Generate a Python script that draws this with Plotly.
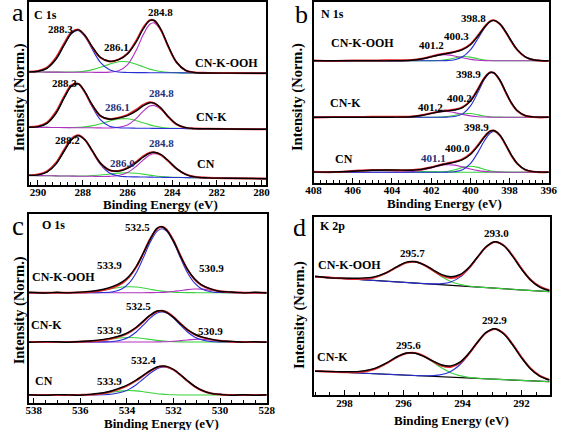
import numpy as np
import plotly.graph_objects as go

FONT = "Liberation Serif"
W, H = 567, 430
RED, BLACK, BLUE, PURPLE, GREEN = "#e3262c", "#000000", "#2a2fd4", "#b032c4", "#39d23c"
NAVY = "#24307a"

# ---------------- Panel a : C 1s ----------------
E_C = [290.4, 290.0, 289.6, 289.2, 288.8, 288.5, 288.2, 287.9, 287.6, 287.2, 286.8, 286.4, 286.0,
       285.6, 285.3, 285.0, 284.8, 284.5, 284.2, 283.8, 283.4, 283.0, 282.4, 281.5, 279.8]
C_OOH_BG = [112.5, 112.5, 112.4, 112.4, 112.3, 112.3, 112.2, 112.2, 112.2, 112.1, 112.1, 112.0, 112.0,
            111.9, 111.9, 111.8, 111.8, 111.8, 111.7, 111.7, 111.6, 111.6, 111.5, 111.4, 111.2]
C_OOH_2883 = [0.1, 0.74, 3.8, 12.8, 28.2, 38.7, 41.9, 35.7, 24.1, 9.8, 2.6, 0.46, 0.05, 0, 0, 0, 0, 0, 0, 0, 0, 0, 0, 0, 0]
C_OOH_2861 = [0, 0, 0, 0.01, 0.06, 0.19, 0.51, 1.2, 2.44, 5.1, 8.3, 10.7, 10.7, 8.3, 5.9, 3.6, 2.44, 1.2, 0.51, 0.13, 0, 0, 0, 0, 0]
C_OOH_2848 = [0, 0, 0, 0, 0, 0, 0, 0, 0, 0.02, 0.23, 1.67, 7.7, 22.6, 37.5, 48.4, 49.8, 42.0, 27.5, 10.5, 2.6, 0.4, 0, 0, 0]
C_OOH_FIT = [0.1, 0.7, 3.8, 12.8, 28.3, 38.9, 42.4, 36.9, 26.5, 14.9, 11.1, 12.8, 18.5, 30.9, 43.4, 52.0, 52.2, 43.2, 28.0, 10.6, 2.6, 0.4, 0, 0, 0]
C_OOH_RAW = [0.3, 1.0, 4.6, 14.3, 30.0, 40.0, 42.6, 36.6, 26.0, 14.6, 11.0, 12.9, 19.0, 32.2, 44.6, 52.6, 52.0, 42.8, 27.6, 10.4, 2.5, 0.5, 0.1, 0, 0.1]

C_K_BG = [57.2, 57.1, 57.1, 57.0, 56.9, 56.8, 56.8, 56.7, 56.7, 56.6, 56.5, 56.5, 56.4,
          56.3, 56.2, 56.2, 56.1, 56.1, 56.0, 56.0, 55.9, 55.8, 55.7, 55.5, 55.2]
C_K_2883 = [0.1, 0.74, 4.0, 14.0, 30.9, 41.6, 43.4, 35.1, 22.0, 7.95, 1.83, 0.27, 0.03, 0, 0, 0, 0, 0, 0, 0, 0, 0, 0, 0, 0]
C_K_2861 = [0, 0, 0, 0, 0.04, 0.14, 0.38, 0.9, 1.9, 4.07, 6.87, 9.05, 9.34, 7.53, 5.45, 3.44, 2.34, 1.17, 0.51, 0.14, 0.03, 0, 0, 0, 0]
C_K_2848 = [0, 0, 0, 0, 0, 0, 0, 0, 0, 0, 0.07, 0.6, 3.07, 9.8, 16.9, 22.2, 22.9, 19.1, 12.1, 4.3, 0.94, 0.13, 0, 0, 0]
C_K_FIT = [0.1, 0.74, 4.0, 14.0, 30.9, 41.7, 43.8, 36.0, 23.9, 12.0, 8.8, 9.9, 12.4, 17.3, 22.4, 25.6, 25.2, 20.3, 12.6, 4.4, 1.0, 0.1, 0, 0, 0]
C_K_RAW = [0.3, 1.1, 4.8, 15.6, 32.4, 42.6, 43.9, 35.6, 23.4, 11.8, 8.9, 10.2, 13.2, 18.6, 23.5, 26.0, 25.0, 19.9, 12.3, 4.2, 1.0, 0.2, 0.1, 0, 0]

C_CN_BG = [9.0, 8.9, 8.8, 8.6, 8.5, 8.4, 8.3, 8.2, 8.2, 8.0, 7.9, 7.8, 7.7,
           7.6, 7.5, 7.4, 7.3, 7.2, 7.1, 7.0, 6.9, 6.8, 6.6, 6.3, 5.8]
C_CN_2882 = [0.1, 0.75, 3.6, 11.8, 26.0, 36.2, 40.5, 36.2, 26.0, 11.8, 3.6, 0.75, 0.1, 0, 0, 0, 0, 0, 0, 0, 0, 0, 0, 0, 0]
C_CN_2860 = [0, 0, 0, 0, 0.02, 0.05, 0.14, 0.33, 0.68, 1.47, 2.57, 3.58, 4.0, 3.58, 2.85, 2.0, 1.47, 0.84, 0.42, 0.14, 0.04, 0, 0, 0, 0]
C_CN_2848 = [0, 0, 0, 0, 0, 0, 0, 0, 0, 0.04, 0.25, 1.23, 4.3, 10.7, 16.9, 22.0, 23.4, 22.0, 16.9, 8.8, 3.3, 0.85, 0.06, 0, 0]
C_CN_FIT = [0.1, 0.75, 3.6, 11.8, 26.0, 36.3, 40.6, 36.5, 26.7, 13.3, 6.4, 5.6, 8.4, 14.3, 19.8, 24.0, 24.9, 22.8, 17.3, 8.9, 3.3, 0.85, 0.06, 0, 0]
C_CN_RAW = [0.2, 1.0, 4.3, 13.0, 27.5, 37.4, 40.9, 36.4, 26.3, 13.0, 6.4, 5.8, 8.9, 15.2, 20.6, 24.4, 24.8, 22.5, 17.0, 8.8, 3.4, 0.9, 0.2, 0, 0.1]

# ---------------- Panel b : N 1s ----------------
E_N = [408, 407, 406, 405, 404, 403, 402.5, 402.0, 401.6, 401.2, 400.8, 400.4, 400.0,
       399.6, 399.3, 399.0, 398.8, 398.5, 398.2, 397.9, 397.6, 397.2, 396.8, 396.4, 396.0]
N_OOH_BG = 121.7
N_OOH_3988 = [0, 0, 0, 0, 0, 0, 0, 0, 0.03, 0.22, 1.08, 3.97, 10.9, 22.6, 32.1, 38.9, 40.3, 37.1, 29.1, 19.4, 10.9, 3.97, 1.08, 0.22, 0.03]
N_OOH_4003 = [0, 0, 0, 0, 0, 0, 0, 0.04, 0.27, 1.14, 2.85, 4.23, 3.71, 1.92, 0.83, 0.27, 0.11, 0.02, 0, 0, 0, 0, 0, 0, 0]
N_OOH_4012 = [0, 0, 0, 0, 0.01, 0.5, 1.75, 3.95, 5.56, 5.95, 4.84, 3.0, 1.41, 0.5, 0.2, 0.05, 0, 0, 0, 0, 0, 0, 0, 0, 0]
N_OOH_FIT = [0, 0, 0, 0, 0.01, 0.5, 1.75, 3.99, 5.86, 7.31, 8.77, 11.2, 16.0, 25.0, 33.1, 39.2, 40.4, 37.1, 29.1, 19.4, 10.9, 3.97, 1.08, 0.22, 0.03]
N_OOH_RAW = [0.3, -0.2, 0.4, 0.2, 0.6, 0.9, 2.0, 4.3, 6.2, 7.5, 9.0, 11.6, 16.6, 25.6, 33.5, 39.5, 40.5, 36.9, 28.7, 19.0, 10.6, 3.8, 1.0, 0.1, -0.3]

N_K_BG = 65.3
N_K_3989 = [0, 0, 0, 0, 0, 0, 0, 0, 0.01, 0.1, 0.69, 3.33, 11.1, 25.4, 37.2, 44.2, 44.2, 37.2, 25.4, 14.1, 6.4, 1.6, 0.28, 0.03, 0]
N_K_4002 = [0, 0, 0, 0, 0, 0, 0, 0.01, 0.12, 0.62, 1.9, 3.43, 3.66, 2.31, 1.16, 0.43, 0.19, 0.04, 0, 0, 0, 0, 0, 0, 0]
N_K_4012 = [0, 0, 0, 0, 0.01, 0.48, 1.66, 3.75, 5.28, 5.65, 4.6, 2.85, 1.34, 0.48, 0.19, 0.05, 0, 0, 0, 0, 0, 0, 0, 0, 0]
N_K_FIT = [0, 0, 0, 0, 0.01, 0.48, 1.66, 3.76, 5.41, 6.37, 7.19, 9.61, 16.1, 28.2, 38.6, 44.7, 44.4, 37.2, 25.4, 14.1, 6.4, 1.6, 0.28, 0.03, 0]
N_K_RAW = [-0.2, 0.3, 0.1, 0.5, 0.4, 0.8, 1.9, 4.0, 5.8, 6.8, 7.6, 10.0, 16.6, 28.8, 38.9, 44.8, 44.3, 37.0, 25.0, 13.8, 6.1, 1.4, 0.2, -0.2, 0.1]

N_CN_BG = 10.3
N_CN_3989 = [0, 0, 0, 0, 0, 0, 0, 0, 0, 0.08, 0.53, 2.54, 8.55, 20.35, 31.0, 39.0, 40.7, 36.9, 27.6, 16.9, 8.55, 2.54, 0.53, 0.08, 0]
N_CN_4000 = [0, 0, 0, 0, 0, 0, 0, 0.02, 0.16, 0.78, 2.43, 4.79, 6.0, 4.79, 3.0, 1.46, 0.78, 0.25, 0.06, 0, 0, 0, 0, 0, 0]
N_CN_4011 = [0, 0, 0, 0, 0.02, 0.61, 1.93, 4.28, 6.31, 7.45, 7.05, 5.34, 3.24, 1.58, 0.79, 0.35, 0.19, 0.07, 0.02, 0, 0, 0, 0, 0, 0]
N_CN_SAT = [0.03, 0.24, 0.94, 1.98, 2.24, 1.37, 0.85, 0.45, 0.24, 0.12, 0.05, 0.02, 0, 0, 0, 0, 0, 0, 0, 0, 0, 0, 0, 0, 0]
N_CN_FIT = [0.03, 0.24, 0.94, 1.98, 2.26, 1.98, 2.78, 4.75, 6.71, 8.43, 10.06, 12.69, 17.79, 26.72, 34.79, 40.81, 41.67, 37.22, 27.68, 16.9, 8.55, 2.54, 0.53, 0.08, 0]
N_CN_RAW = [0.4, 0.1, 1.2, 2.3, 2.0, 2.2, 2.9, 5.0, 7.1, 8.8, 10.4, 13.1, 18.4, 27.3, 35.2, 41.0, 41.5, 36.9, 27.2, 16.5, 8.3, 2.4, 0.4, 0.0, 0.2]

# ---------------- Panel c : O 1s ----------------
E_O = [538.2, 537.5, 537.0, 536.5, 536.0, 535.5, 535.0, 534.6, 534.2, 533.9, 533.6, 533.3, 533.0, 532.7,
       532.5, 532.3, 532.0, 531.7, 531.4, 531.1, 530.8, 530.4, 530.0, 529.5, 529.0, 528.5, 528.0]
O_OOH_BG = 110.0
O_OOH_5325 = [0, 0, 0, 0, 0, 0.01, 0.16, 0.93, 4.0, 9.77, 20.0, 34.6, 50.4, 61.6, 64.0, 61.6, 50.4, 34.6, 20.0, 9.77, 4.0, 0.93, 0.16, 0.01, 0, 0, 0]
O_OOH_5339 = [0, 0, 0.01, 0.06, 0.28, 1.02, 2.59, 4.27, 5.64, 6.0, 5.64, 4.68, 3.42, 2.21, 1.54, 1.02, 0.49, 0.21, 0.08, 0.03, 0.01, 0, 0, 0, 0, 0, 0]
O_OOH_5309 = [0, 0, 0, 0, 0, 0, 0, 0, 0, 0, 0, 0.01, 0.05, 0.16, 0.32, 0.59, 1.25, 2.18, 3.11, 3.66, 3.54, 2.5, 1.25, 0.32, 0.05, 0, 0]
O_OOH_FIT = [0, 0, 0.01, 0.06, 0.28, 1.03, 2.75, 5.2, 9.64, 15.77, 25.64, 39.29, 53.87, 63.97, 65.86, 63.21, 52.14, 36.99, 23.19, 13.46, 7.55, 3.43, 1.41, 0.33, 0.05, 0, 0]
O_OOH_RAW = [0.5, -0.3, 0.4, -0.2, 0.6, 1.5, 3.4, 6.3, 10.9, 16.8, 26.2, 39.4, 53.4, 64.6, 66.0, 62.8, 51.6, 36.6, 23.4, 13.9, 7.9, 3.9, 1.2, 0.7, -0.2, 0.4, -0.3]

O_K_BG = 60.7
O_K_5325 = [0, 0, 0, 0, 0, 0.01, 0.1, 0.55, 2.19, 5.09, 10.0, 16.8, 23.9, 28.9, 30.0, 28.9, 23.9, 16.8, 10.0, 5.09, 2.19, 0.55, 0.1, 0.01, 0, 0, 0]
O_K_5339 = [0, 0, 0.01, 0.05, 0.21, 0.77, 1.94, 3.2, 4.23, 4.5, 4.23, 3.51, 2.57, 1.66, 1.16, 0.77, 0.37, 0.16, 0.06, 0.02, 0, 0, 0, 0, 0, 0, 0]
O_K_5309 = [0, 0, 0, 0, 0, 0, 0, 0, 0, 0, 0, 0, 0.02, 0.08, 0.17, 0.32, 0.73, 1.35, 2.06, 2.59, 2.67, 2.06, 1.12, 0.32, 0.05, 0, 0]
O_K_FIT = [0, 0, 0.01, 0.05, 0.21, 0.78, 2.04, 3.75, 6.42, 9.59, 14.23, 20.31, 26.49, 30.64, 31.33, 29.99, 25.0, 18.31, 12.12, 7.7, 4.86, 2.61, 1.22, 0.33, 0.05, 0, 0]
O_K_RAW = [-0.3, 0.4, 0.2, -0.2, 0.5, 1.2, 2.6, 4.4, 7.0, 10.2, 14.8, 20.9, 26.9, 31.0, 31.2, 29.6, 24.6, 18.0, 12.2, 8.0, 5.1, 2.9, 1.0, 0.6, -0.1, 0.3, -0.2]

O_CN_BG = 7.7
O_CN_5324 = [0, 0, 0, 0, 0, 0.04, 0.26, 0.98, 2.96, 5.88, 10.3, 15.97, 21.8, 26.3, 27.8, 27.8, 25.06, 19.9, 14.0, 8.68, 4.75, 1.75, 0.52, 0.08, 0.01, 0, 0]
O_CN_5339 = [0, 0, 0, 0.01, 0.1, 0.5, 1.6, 2.96, 4.17, 4.5, 4.17, 3.31, 2.25, 1.31, 0.84, 0.5, 0.21, 0.07, 0.02, 0, 0, 0, 0, 0, 0, 0, 0]
O_CN_FIT = [0, 0, 0, 0.01, 0.1, 0.54, 1.86, 3.94, 7.13, 10.38, 14.47, 19.28, 24.05, 27.61, 28.64, 28.3, 25.27, 19.97, 14.02, 8.68, 4.75, 1.75, 0.52, 0.08, 0.01, 0, 0]
O_CN_RAW = [0.3, -0.3, 0.4, 0.1, -0.2, 0.9, 2.3, 4.5, 7.8, 11.0, 15.0, 19.6, 24.4, 28.0, 28.9, 28.6, 25.5, 20.2, 14.3, 8.9, 4.9, 1.6, 0.7, -0.2, 0.3, -0.3, 0.2]

# ---------------- Panel d : K 2p ----------------
E_K = [299.0, 298.5, 298.0, 297.5, 297.0, 296.6, 296.2, 295.9, 295.6, 295.3, 295.0, 294.7,
       294.4, 294.1, 293.8, 293.5, 293.2, 292.9, 292.6, 292.3, 292.0, 291.7, 291.4, 291.05]
K_OOH_BG = [118.3, 117.4, 116.4, 115.5, 114.5, 113.8, 113.0, 112.5, 111.9, 111.3, 110.8, 110.2,
            109.6, 109.1, 108.5, 107.9, 107.4, 106.8, 106.2, 105.7, 105.1, 104.5, 104.0, 103.3]
K_OOH_2957 = [0, 0, 0.05, 0.52, 2.96, 8.02, 15.35, 19.9, 21.24, 18.65, 13.48, 8.02, 3.92, 1.58, 0.52, 0.14, 0.03, 0, 0, 0, 0, 0, 0, 0]
K_OOH_2930 = [0, 0, 0, 0, 0, 0, 0, 0, 0.01, 0.07, 0.31, 1.14, 3.44, 8.54, 17.46, 29.36, 40.63, 46.26, 43.36, 33.44, 21.22, 11.08, 4.76, 1.39]
K_OOH_FIT = [0, 0, 0.05, 0.52, 2.96, 8.02, 15.35, 19.9, 21.25, 18.72, 13.79, 9.16, 7.36, 10.12, 17.98, 29.5, 40.66, 46.26, 43.36, 33.44, 21.22, 11.08, 4.76, 1.39]
K_OOH_RAW = [0.4, -0.3, 0.5, 1.3, 3.6, 8.3, 15.6, 20.4, 21.3, 18.9, 14.4, 10.2, 8.6, 11.2, 18.6, 29.8, 40.9, 46.5, 43.0, 32.9, 20.7, 10.6, 4.2, 1.0]

K_K_BG = [24.0, 23.3, 22.7, 22.0, 21.3, 20.8, 20.2, 19.8, 19.4, 19.0, 18.6, 18.2,
          17.8, 17.4, 17.0, 16.6, 16.2, 15.8, 15.4, 15.0, 14.6, 14.2, 13.8, 13.3]
K_K_2956 = [0, 0.01, 0.14, 1.02, 4.5, 10.48, 17.94, 21.94, 22.58, 19.56, 14.25, 8.73, 4.5, 1.96, 0.71, 0.22, 0.05, 0.01, 0, 0, 0, 0, 0, 0]
K_K_2929 = [0, 0, 0, 0, 0, 0, 0, 0.01, 0.05, 0.2, 0.73, 2.24, 5.8, 12.61, 23.08, 35.54, 46.05, 50.2, 46.05, 35.54, 23.08, 12.61, 5.8, 1.88]
K_K_FIT = [0, 0.01, 0.14, 1.02, 4.5, 10.48, 17.94, 21.95, 22.63, 19.76, 14.98, 10.97, 10.3, 14.57, 23.79, 35.76, 46.1, 50.21, 46.05, 35.54, 23.08, 12.61, 5.8, 1.88]
K_K_RAW = [-0.3, 0.3, 0.5, 1.6, 5.0, 10.9, 18.3, 22.2, 22.4, 19.4, 15.3, 11.8, 11.3, 15.2, 24.2, 35.9, 46.4, 50.5, 45.6, 35.0, 22.6, 12.1, 5.3, 1.5]

fig = go.Figure()


def line(x, y, color, width, ax):
    fig.add_trace(go.Scatter(x=x, y=y, mode="lines", line=dict(color=color, width=width, shape="spline"),
                             xaxis="x" + ax, yaxis="y" + ax, showlegend=False, hoverinfo="skip"))


def spectrum(E, bg, comps, red, black, ax, draw_bg=False):
    b = np.asarray(bg, dtype=float)
    if draw_bg:
        fig.add_trace(go.Scatter(x=E, y=b + np.zeros(len(E)), mode="lines", line=dict(color=BLACK, width=1.2),
                                 xaxis="x" + ax, yaxis="y" + ax, showlegend=False, hoverinfo="skip"))
    for vals, col in comps:
        line(E, b + np.asarray(vals), col, 1.1, ax)
    line(E, b + np.asarray(red), RED, 2.0, ax)
    line(E, b + np.asarray(black), BLACK, 1.4, ax)


# panel a (red = raw, black = fit)
spectrum(E_C, C_OOH_BG, [(C_OOH_2861, GREEN), (C_OOH_2848, PURPLE), (C_OOH_2883, BLUE)], C_OOH_RAW, C_OOH_FIT, "")
spectrum(E_C, C_K_BG, [(C_K_2861, GREEN), (C_K_2848, PURPLE), (C_K_2883, BLUE)], C_K_RAW, C_K_FIT, "")
spectrum(E_C, C_CN_BG, [(C_CN_2860, GREEN), (C_CN_2848, PURPLE), (C_CN_2882, BLUE)], C_CN_RAW, C_CN_FIT, "")
# panel b
spectrum(E_N, N_OOH_BG, [(N_OOH_4003, GREEN), (N_OOH_4012, PURPLE), (N_OOH_3988, BLUE)], N_OOH_RAW, N_OOH_FIT, "2")
spectrum(E_N, N_K_BG, [(N_K_4002, GREEN), (N_K_4012, PURPLE), (N_K_3989, BLUE)], N_K_RAW, N_K_FIT, "2")
spectrum(E_N, N_CN_BG, [(N_CN_SAT, GREEN), (N_CN_4000, GREEN), (N_CN_4011, PURPLE), (N_CN_3989, BLUE)], N_CN_RAW, N_CN_FIT, "2")
# panel c (red = fit, black = raw)
spectrum(E_O, O_OOH_BG, [(O_OOH_5339, GREEN), (O_OOH_5309, PURPLE), (O_OOH_5325, BLUE)], O_OOH_FIT, O_OOH_RAW, "3")
spectrum(E_O, O_K_BG, [(O_K_5339, GREEN), (O_K_5309, PURPLE), (O_K_5325, BLUE)], O_K_FIT, O_K_RAW, "3")
spectrum(E_O, O_CN_BG, [(O_CN_5339, GREEN), (O_CN_5324, BLUE)], O_CN_FIT, O_CN_RAW, "3")
# panel d
spectrum(E_K, K_OOH_BG, [(K_OOH_2957, GREEN), (K_OOH_2930, BLUE)], K_OOH_FIT, K_OOH_RAW, "4", draw_bg=True)
spectrum(E_K, K_K_BG, [(K_K_2956, GREEN), (K_K_2929, BLUE)], K_K_FIT, K_K_RAW, "4", draw_bg=True)


def px_x(x):
    return x / W


def px_y(y):
    return 1 - y / H


def xax(x0, x1, rng, dtick, mdt, anchor, standoff=-3):
    return dict(domain=[px_x(x0), px_x(x1)], range=rng, anchor=anchor, showline=True, mirror=True,
                linecolor="black", linewidth=1.5, ticks="inside", ticklen=5, tickwidth=1.2, tickcolor="black",
                dtick=dtick, tick0=0, showgrid=False, zeroline=False, ticklabelstandoff=standoff,
                minor=dict(ticks="inside", ticklen=3, tickwidth=1, tickcolor="black", dtick=mdt, tick0=0,
                           showgrid=False),
                tickfont=dict(family=FONT, size=11, color="black", weight="bold"))


def yax(y0, y1, hgt, anchor):
    return dict(domain=[px_y(y1), px_y(y0)], range=[0, hgt], anchor=anchor, showline=True, mirror=True,
                linecolor="black", linewidth=1.5, ticks="", showticklabels=False, showgrid=False,
                zeroline=False)


fig.update_layout(
    width=W, height=H, margin=dict(l=0, r=0, t=0, b=0),
    paper_bgcolor="white", plot_bgcolor="white",
    xaxis=xax(21.7, 266, [290.4, 279.8], 2, 2 / 6, "y"),
    yaxis=yax(1.7, 184.5, 182.8, "x"),
    xaxis2=xax(315, 557.5, [408, 396], 2, 2 / 6, "y2"),
    yaxis2=yax(1.7, 182.5, 180.8, "x2"),
    xaxis3=xax(21.7, 266.7, [538.2, 528], 2, 0.5, "y3", standoff=-4),
    yaxis3=yax(214, 402.7, 188.7, "x3"),
    xaxis4=xax(315, 558.3, [299.05, 291.05], 2, 0.5, "y4"),
    yaxis4=yax(216.7, 395, 178.3, "x4"),
)

ann = []


def txt(s, x, y, size=11, color="black", bold=True, angle=0):
    ann.append(dict(text=s, x=px_x(x), y=px_y(y), xref="paper", yref="paper", showarrow=False,
                    xanchor="center", yanchor="middle", textangle=angle,
                    font=dict(family=FONT, size=size, color=color, weight="bold" if bold else "normal")))


# panel letters
txt("a", 10.3, 12.5, 26, bold=False)
txt("b", 302.5, 14.5, 26, bold=False)
txt("c", 10, 226.0, 27, bold=False)
txt("d", 300.8, 227.8, 26, bold=False)
# element titles
txt("C 1s", 38.3, 15, 12)
txt("N 1s", 335, 14, 12)
txt("O 1s", 46.7, 225, 12)
txt("K 2p", 335, 226, 12)
# axis titles
for x, y in [(11.7, 97), (298.3, 96.7), (11.7, 310), (300, 315)]:
    txt("Intensity (Norm.)", x, y, 14.5, angle=-90)
for x, y in [(156.7, 204.5), (450, 203.5), (158.3, 423), (456.7, 420)]:
    txt("Binding Energy (eV)", x, y, 13)

# panel a labels
txt("288.3", 54.3, 29); txt("286.1", 111.7, 47.3); txt("284.8", 156.7, 12.3); txt("CN-K-OOH", 225, 63.3, 12)
txt("288.3", 58.3, 83.3); txt("286.1", 112.7, 107.3, color=NAVY); txt("284.8", 158.3, 93.3, color=NAVY)
txt("CN-K", 210, 117.3, 12)
txt("288.2", 61.7, 140); txt("286.0", 118.3, 163.3, color=NAVY); txt("284.8", 158.3, 143.3, color=NAVY)
txt("CN", 204, 164.3, 12)
# panel b labels
txt("398.8", 480, 18.3); txt("400.3", 462.7, 36); txt("401.2", 436.7, 45); txt("CN-K-OOH", 365, 43.3, 12)
txt("398.9", 475, 74); txt("400.2", 465, 98.3); txt("401.2", 436, 106.7); txt("CN-K", 348.3, 103.3, 12)
txt("398.9", 483.3, 126.7); txt("400.0", 463.3, 148.3); txt("401.1", 438.3, 158.3, color=NAVY)
txt("CN", 346.7, 159.3, 12)
# panel c labels
txt("532.5", 133.3, 226.7); txt("533.9", 105, 265); txt("530.9", 210, 268.3); txt("CN-K-OOH", 56.7, 276.7, 12)
txt("532.5", 135, 306); txt("533.9", 105, 330); txt("530.9", 208.3, 330.7); txt("CN-K", 40, 325, 12)
txt("532.4", 140, 360); txt("533.9", 105, 380.7); txt("CN", 36.7, 380.7, 12)
# panel d labels
txt("293.0", 503.3, 232.7); txt("295.7", 416.7, 253.3); txt("CN-K-OOH", 351.7, 265, 12)
txt("292.9", 501.7, 320); txt("295.6", 413.3, 345); txt("CN-K", 335, 356.7, 12)

fig.update_layout(annotations=ann)
fig.write_html("out.html", config={"displayModeBar": False},
               post_script="document.body.style.margin='0px';document.body.style.overflow='hidden';")
